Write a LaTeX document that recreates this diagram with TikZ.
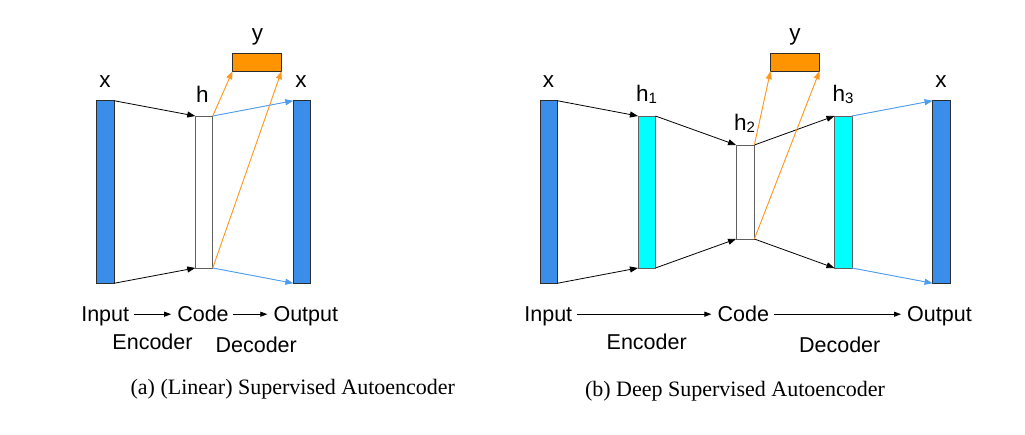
\documentclass[tikz,border=0pt]{standalone}
\usepackage{fontspec}
\setmainfont{Liberation Serif}
\newfontfamily\arialf{Liberation Sans}
\usetikzlibrary{arrows.meta}
\definecolor{barblue}{RGB}{58,141,232}
\definecolor{barcyan}{RGB}{0,255,255}
\definecolor{yorange}{RGB}{255,148,0}
\definecolor{arrblue}{RGB}{78,155,240}
\definecolor{arrorange}{RGB}{255,152,30}
\definecolor{edgedark}{RGB}{45,45,45}
\definecolor{edgegray}{RGB}{95,95,95}
\newcommand\mysubidx[1]{\raisebox{-1.5pt}{\fontsize{15}{15}\selectfont #1}}
\begin{document}
\begin{tikzpicture}[x=1pt,y=-1pt,
  layer/.style={draw=edgedark, line width=0.9pt, inner sep=0pt, outer sep=0pt, minimum width=17.5pt},
  xbar/.style={layer, fill=barblue, minimum height=182.5pt},
  hbar/.style={layer, draw=edgegray, fill=barcyan, minimum height=152pt},
  codebox/.style={layer, draw=edgegray, fill=white},
  ybox/.style={layer, fill=yorange, minimum width=49pt, minimum height=17.5pt},
  arr/.style={-{Triangle[length=8pt,width=6pt]}, line width=0.8pt, draw=black},
  barr/.style={-{Triangle[length=8pt,width=6pt]}, line width=0.9pt, draw=arrblue, fill=arrblue},
  oarr/.style={-{Triangle[length=8pt,width=6pt]}, line width=0.9pt, draw=arrorange, fill=arrorange},
  flow/.style={-{Triangle[length=7pt,width=5pt]}, line width=0.8pt, shorten <=4.5pt, shorten >=6pt},
  lab/.style={font=\arialf\fontsize{22.5}{22}\selectfont, anchor=base, inner sep=0pt},
  row/.style={font=\arialf\fontsize{21.5}{22}\selectfont, anchor=base, inner sep=0pt, text height=15pt, text depth=0pt},
  captext/.style={font=\fontsize{22}{24}\selectfont, anchor=base, inner sep=0pt}
]
\useasboundingbox (0,0) rectangle (1025,435);

% ---------- (a) ----------
\node[xbar] (xa) at (105.5,192) {};
\node[codebox, minimum height=152pt] (ha) at (204,192) {};
\node[xbar] (xra) at (302,192) {};
\node[ybox] (ya) at (257,62.5) {};

\node[lab] (lxa) at (105,87.7) {x};
\node[lab] (lha) at (202.5,102.3) {h};
\node[lab] (lya) at (257.5,41) {y};
\node[lab] (lxra) at (301,87.7) {x};

\draw[arr] (xa.north east) -- (ha.north west);
\draw[arr] (xa.south east) -- (ha.south west);
\draw[barr] (ha.north east) -- (xra.north west);
\draw[barr] (ha.south east) -- (xra.south west);
\draw[oarr] (ha.north east) -- (ya.south west);
\draw[oarr] (ha.south east) -- (ya.south east);

\node[row] (ina) at (105.2,321.7) {Input};
\node[row] (codea) at (203,321.7) {Code};
\node[row] (outa) at (305.8,321.7) {Output};
\draw[flow] (ina.east) -- (codea.west);
\draw[flow] (codea.east) -- (outa.west);
\node[row] (enca) at (152.5,350) {Encoder};
\node[row] (deca) at (256.2,352.3) {Decoder};
\node[captext] (capa) at (292.8,395) {(a) (Linear) Supervised Autoencoder};

% ---------- (b) ----------
\node[xbar] (xb) at (548.7,192) {};
\node[hbar] (h1) at (646.7,192) {};
\node[codebox, minimum width=18.3pt, minimum height=94pt] (h2) at (745.2,192) {};
\node[hbar] (h3) at (843.2,192) {};
\node[xbar] (xrb) at (941.3,192) {};
\node[ybox] (yb) at (795,62.4) {};

\node[lab] (lxb) at (548.5,87.7) {x};
\node[lab] (lh1) at (646.5,101.7) {h\mysubidx{1}};
\node[lab] (lh2) at (744.5,130.7) {h\mysubidx{2}};
\node[lab] (lh3) at (843,101.7) {h\mysubidx{3}};
\node[lab] (lyb) at (795,41) {y};
\node[lab] (lxrb) at (941,87.7) {x};

\draw[arr] (xb.north east) -- (h1.north west);
\draw[arr] (xb.south east) -- (h1.south west);
\draw[arr] (h1.north east) -- (h2.north west);
\draw[arr] (h1.south east) -- (h2.south west);
\draw[arr] (h2.north east) -- (h3.north west);
\draw[arr] (h2.south east) -- (h3.south west);
\draw[barr] (h3.north east) -- (xrb.north west);
\draw[barr] (h3.south east) -- (xrb.south west);
\draw[oarr] (h2.north east) -- (yb.south west);
\draw[oarr] (h2.south east) -- (yb.south east);

\node[row] (inb) at (548.3,321.7) {Input};
\node[row] (codeb) at (743.3,321.7) {Code};
\node[row] (outb) at (939.5,321.7) {Output};
\draw[flow] (inb.east) -- (codeb.west);
\draw[flow] (codeb.east) -- (outb.west);
\node[row] (encb) at (646.7,350) {Encoder};
\node[row] (decb) at (839.7,352.3) {Decoder};
\node[captext] (capb) at (735,396) {(b) Deep Supervised Autoencoder};
\end{tikzpicture}
\end{document}
